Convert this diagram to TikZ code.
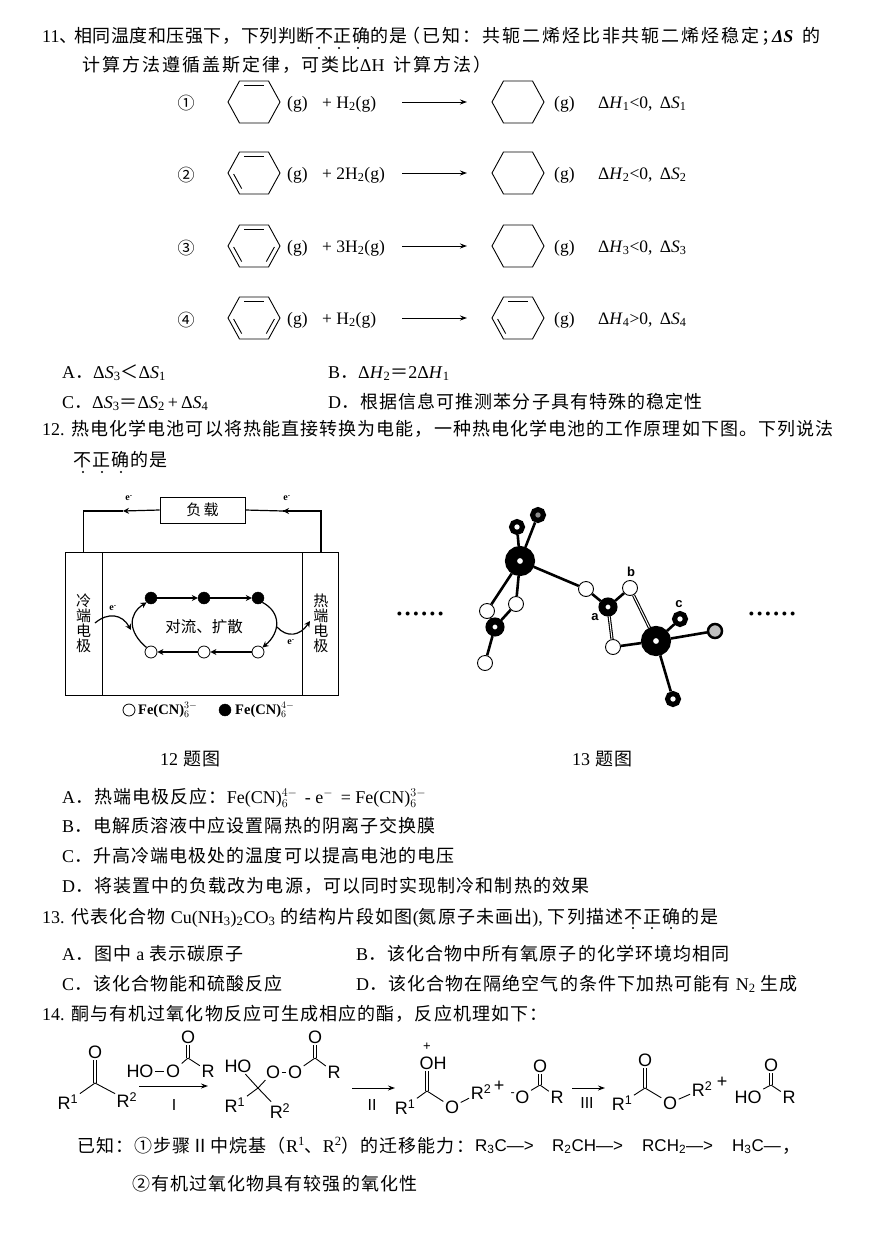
\documentclass[tikz,border=0pt]{standalone}
\usepackage[no-math]{fontspec}
\usepackage{tikz}
\usetikzlibrary{arrows.meta}
\usetikzlibrary{positioning}
\usetikzlibrary{calc}
\setmainfont{Liberation Serif}
\newfontfamily\ser{Liberation Serif}
\newfontfamily\helv{Liberation Sans}
\newfontfamily\cjk[LetterSpace=6]{Noto Sans CJK SC}
\newfontfamily\cjkmid[LetterSpace=3]{Noto Sans CJK SC}
\newfontfamily\cjkwide[LetterSpace=11]{Noto Sans CJK SC}
\newfontfamily\cjktight{Noto Sans CJK SC}
\tikzstyle{textline} = [anchor=base west, inner sep=0pt, font=\cjk\fontsize{18}{22}\selectfont]
\tikzstyle{wideline} = [anchor=base west, inner sep=0pt, font=\cjkwide\fontsize{18}{22}\selectfont]
\tikzstyle{rowtext} = [anchor=base west, inner sep=0pt, font=\ser\fontsize{17.5}{20}\selectfont]
\tikzstyle{ringline} = [line width=0.9pt, line join=miter]
\tikzstyle{rxn} = [line width=1pt, -{Stealth[length=7pt,width=5pt]}]
\tikzstyle{cellbox} = [rectangle, draw, line width=0.9pt, inner sep=0pt, align=center, font=\cjktight\fontsize{15}{15}\selectfont]
\tikzstyle{wire} = [line width=1.2pt]
\tikzstyle{flow} = [line width=1.2pt, -{Stealth[length=6pt,width=6pt]}]
\tikzstyle{blackion} = [circle, draw, fill=black, minimum size=12pt, inner sep=0pt]
\tikzstyle{whiteion} = [circle, draw, line width=0.8pt, fill=white, minimum size=12pt, inner sep=0pt]
\tikzstyle{elabel} = [inner sep=0pt, font=\ser\bfseries\fontsize{10}{10}\selectfont]
\tikzstyle{bigatom} = [circle, draw=black, fill=white, line width=12pt, minimum size=18pt, inner sep=0pt]
\tikzstyle{midatom} = [circle, draw=black, fill=white, line width=7pt, minimum size=12pt, inner sep=0pt]
\tikzstyle{ringatom} = [circle, draw=black, fill=white, line width=5pt, minimum size=11pt, inner sep=0pt]
\tikzstyle{whiteatom} = [circle, draw=black, fill=white, line width=0.9pt, minimum size=15pt, inner sep=0pt]
\tikzstyle{link} = [line width=2.6pt]
\tikzstyle{twinlink} = [line width=1.1pt, double, double distance=1pt]
\tikzstyle{atomlabel} = [inner sep=0pt, font=\helv\bfseries\fontsize{13}{13}\selectfont]
\tikzstyle{atom} = [inner sep=1.5pt, font=\helv\fontsize{18}{20}\selectfont]
\tikzstyle{bond} = [line width=0.9pt]
\tikzstyle{dbond} = [line width=0.8pt, double, double distance=2pt]
\tikzstyle{steplabel} = [inner sep=0pt, font=\helv\fontsize{16}{16}\selectfont]
\newcommand{\hexring}[2]{\begin{scope}[shift={(#1)}]
	\draw[ringline] (26,0)--(14.5,21)--(-14.5,21)--(-26,0)--(-14.5,-21)--(14.5,-21)--cycle;
	#2
\end{scope}}
\newcommand{\bondtop}{\draw[ringline] (-10,-17)--(10,-17);}
\newcommand{\bondleft}{\draw[ringline] (-20.4,1)--(-12.3,15.6);}
\newcommand{\bondright}{\draw[ringline] (20.4,1)--(12.3,15.6);}
\newcommand{\fecn}[1]{Fe(CN)$^{\mathrm{#1}}_{6}$}
\begin{document}
\begin{tikzpicture}[x=1pt,y=-1pt]
	\useasboundingbox (0,0) rectangle (870,1255);

	% question 11
	\node[textline] (Q11n) at (42,43) {{\ser 11}、};
	\node[textline, font=\cjkmid\fontsize{18}{22}\selectfont] (Q11a) at (74,43) {相同温度和压强下，下列判断不正确的是};
	\node[wideline] (Q11e) at (402,43) {（已知：共轭二烯烃比非共轭二烯烃稳定；};
	\node[textline] (Q11b) at (772,43) {{\ser\bfseries\textit{ΔS}}};
	\node[textline] (Q11c) at (802,43) {的};
	\node[wideline] (Q11d) at (82,71) {计算方法遵循盖斯定律，可类比{\ser ΔH}\hspace{9pt}计算方法）};
	\foreach \x in {319,339,358} \fill (\x,48) circle (1.1);

	\node[rowtext, anchor=center, font=\cjktight\fontsize{17}{20}\selectfont] (No1) at (186,103) {①};
	\hexring{254,102}{\bondtop}
	\node[rowtext] (GL1) at (287,108) {(g)};
	\node[rowtext] (Hy1) at (322,108) {+ H\textsubscript{2}(g)};
	\coordinate (ArA1) at (402,102);
	\coordinate (ArB1) at (467,102);
	\draw[rxn] (ArA1) -- (ArB1);
	\hexring{518,102}{}
	\node[rowtext] (GR1) at (554,108) {(g)};
	\node[rowtext] (En1) at (598,108) {Δ\textit{H}\textsubscript{1}<0,\, Δ\textit{S}\textsubscript{1}};

	\node[rowtext, anchor=center, font=\cjktight\fontsize{17}{20}\selectfont] (No2) at (186,175) {②};
	\hexring{254,173}{\bondtop\bondleft}
	\node[rowtext] (GL2) at (287,179) {(g)};
	\node[rowtext] (Hy2) at (322,179) {+ 2H\textsubscript{2}(g)};
	\coordinate (ArA2) at (402,173);
	\coordinate (ArB2) at (467,173);
	\draw[rxn] (ArA2) -- (ArB2);
	\hexring{518,173}{}
	\node[rowtext] (GR2) at (554,179) {(g)};
	\node[rowtext] (En2) at (598,179) {Δ\textit{H}\textsubscript{2}<0,\, Δ\textit{S}\textsubscript{2}};

	\node[rowtext, anchor=center, font=\cjktight\fontsize{17}{20}\selectfont] (No3) at (186,248) {③};
	\hexring{254,246}{\bondtop\bondleft\bondright}
	\node[rowtext] (GL3) at (287,252) {(g)};
	\node[rowtext] (Hy3) at (322,252) {+ 3H\textsubscript{2}(g)};
	\coordinate (ArA3) at (402,246);
	\coordinate (ArB3) at (467,246);
	\draw[rxn] (ArA3) -- (ArB3);
	\hexring{518,246}{}
	\node[rowtext] (GR3) at (554,252) {(g)};
	\node[rowtext] (En3) at (598,252) {Δ\textit{H}\textsubscript{3}<0,\, Δ\textit{S}\textsubscript{3}};

	\node[rowtext, anchor=center, font=\cjktight\fontsize{17}{20}\selectfont] (No4) at (186,320) {④};
	\hexring{254,318}{\bondtop\bondleft\bondright}
	\node[rowtext] (GL4) at (287,324) {(g)};
	\node[rowtext] (Hy4) at (322,324) {+ H\textsubscript{2}(g)};
	\coordinate (ArA4) at (402,318);
	\coordinate (ArB4) at (467,318);
	\draw[rxn] (ArA4) -- (ArB4);
	\hexring{518,318}{\bondtop\bondleft}
	\node[rowtext] (GR4) at (554,324) {(g)};
	\node[rowtext] (En4) at (598,324) {Δ\textit{H}\textsubscript{4}>0,\, Δ\textit{S}\textsubscript{4}};

	\node[textline] (Opt11A) at (62,378) {{\ser A}．{\ser Δ\textit{S}\textsubscript{3}}＜{\ser Δ\textit{S}\textsubscript{1}}};
	\node[textline] (Opt11B) at (328,378) {{\ser B}．{\ser Δ\textit{H}\textsubscript{2}}＝{\ser 2Δ\textit{H}\textsubscript{1}}};
	\node[textline] (Opt11C) at (62,408) {{\ser C}．{\ser Δ\textit{S}\textsubscript{3}}＝{\ser Δ\textit{S}\textsubscript{2}\,+\,Δ\textit{S}\textsubscript{4}}};
	\node[textline] (Opt11D) at (328,408) {{\ser D}．根据信息可推测苯分子具有特殊的稳定性};

	% question 12
	\node[textline] (Q12a) at (42,435) {{\ser 12.} 热电化学电池可以将热能直接转换为电能，一种热电化学电池的工作原理如下图。下列说法};
	\node[textline] (Q12b) at (73,466) {不正确的是};
	\foreach \x in {83,102,121} \fill (\x,472) circle (1.1);

	% cell figure
	\node[cellbox, minimum width=37pt, minimum height=143pt] (Cold) at (83.5,623.5) {冷\\端\\电\\极};
	\node[cellbox, minimum width=200pt, minimum height=143pt] at ([xshift=100pt]Cold.east) (Mid) {};
	\node[cellbox, minimum width=36pt, minimum height=143pt] at ([xshift=18pt]Mid.east) (Hot) {热\\端\\电\\极};
	\node[cellbox, minimum width=85pt, minimum height=26pt] (Load) at (202.5,510) {负\,载};
	\coordinate (TipL) at (123,511);
	\coordinate (TipR) at (283,511);
	\draw[wire] (TipL) -| (Cold.north);
	\draw[wire] (Hot.north) |- (TipR);
	\draw[flow] (Load.west) -- (TipL);
	\draw[flow] (TipR -| Hot.north) -- (TipR);
	\draw[wire] (TipR) -- (Load.east);
	\node[elabel] (eTopL) at (129,498) {e\textsuperscript{-}};
	\node[elabel] (eTopR) at (287,498) {e\textsuperscript{-}};

	\node[blackion] (Full1) at (151,598) {};
	\node[blackion] (Full2) at (204,598) {};
	\node[blackion] (Full3) at (258,598) {};
	\node[whiteion] (Open1) at (151,652) {};
	\node[whiteion] (Open2) at (204,652) {};
	\node[whiteion] (Open3) at (258,652) {};
	\draw[flow] (Full1) -- (Full2);
	\draw[flow] (Full2) -- (Full3);
	\draw[flow] (Open3) -- (Open2);
	\draw[flow] (Open2) -- (Open1);
	\draw[flow] (Open1.135) .. controls (128,632) and (128,614) .. (Full1.225);
	\draw[flow] (Full3.-45) .. controls (281,612) and (281,632) .. (Open3.45);
	\node[rowtext, anchor=center, font=\cjktight\fontsize{15.5}{16}\selectfont] (Convect) at (204,627) {对流、扩散};
	\coordinate (CurlA) at (95,623);
	\coordinate (CurlB) at (131,630);
	\coordinate (CurlC) at (277,627);
	\coordinate (CurlD) at (310,621);
	\draw[flow] (CurlA) .. controls (108,612) and (122,614) .. (CurlB);
	\draw[flow] (CurlC) .. controls (287,638) and (300,636) .. (CurlD);
	\node[elabel] (eCold) at (113,608) {e\textsuperscript{-}};
	\node[elabel] (eHot) at (291,642) {e\textsuperscript{-}};

	\node[whiteion] (KeyOpen) at (129,710) {};
	\node[rowtext, anchor=west, font=\ser\bfseries\fontsize{14.5}{16}\selectfont] (KeyOpenText) at (138,710) {\fecn{3-}};
	\node[blackion] (KeyFull) at (225,710) {};
	\node[rowtext, anchor=west, font=\ser\bfseries\fontsize{14.5}{16}\selectfont] (KeyFullText) at (235,710) {\fecn{4-}};
	\node[textline] (Cap12) at (160,765) {{\ser 12} 题图};
	\node[textline] (Cap13) at (572,765) {{\ser 13} 题图};

	% molecule figure
	\node[rowtext, anchor=base, font=\ser\fontsize{33}{33}\selectfont] (DotsL) at (420,615) {......};
	\node[rowtext, anchor=base, font=\ser\fontsize{33}{33}\selectfont] (DotsR) at (772,615) {......};
	\node[bigatom] (MetalA) at (520,561) {};
	\node[bigatom] (MetalB) at (656,641) {};
	\node[midatom] (CarbL) at (495,627) {};
	\node[midatom] (CarbA) at (608,607) {};
	\node[ringatom] (OxA1) at (517,527) {};
	\node[ringatom, fill=black!45] (OxA2) at (538,515) {};
	\node[ringatom] (OxC) at (680,619) {};
	\node[ringatom, line width=2.5pt, minimum size=14pt, fill=black!25] (OxD) at (715,631) {};
	\node[ringatom] (OxE) at (673,699) {};
	\node[whiteatom] (OxL1) at (487,611) {};
	\node[whiteatom] (OxL2) at (516,604) {};
	\node[whiteatom] (OxL3) at (485,663) {};
	\node[whiteatom] (OxR1) at (586,589) {};
	\node[whiteatom] (OxB) at (630,588) {};
	\node[whiteatom] (OxR3) at (613,647) {};
	\draw[link] (MetalA) -- (OxA1);
	\draw[link] (MetalA) -- (OxA2);
	\draw[link] (MetalA) -- (OxL1);
	\draw[link] (MetalA) -- (OxL2);
	\draw[link] (MetalA) -- (OxR1);
	\draw[link] (CarbL) -- (OxL1);
	\draw[link] (CarbL) -- (OxL2);
	\draw[link] (CarbL) -- (OxL3);
	\draw[link] (OxR1) -- (CarbA);
	\draw[link] (CarbA) -- (OxB);
	\draw[twinlink] (CarbA) -- (OxR3);
	\draw[twinlink] (OxB) -- (MetalB);
	\draw[link] (OxR3) -- (MetalB);
	\draw[link] (MetalB) -- (OxC);
	\draw[link] (MetalB) -- (OxD);
	\draw[link] (MetalB) -- (OxE);
	\node[atomlabel] (LabA) at (595,617) {a};
	\node[atomlabel] (LabB) at (631,572) {b};
	\node[atomlabel] (LabC) at (679,604) {c};

	% options 12 and question 13
	\node[textline] (Opt12A) at (62,803) {{\ser A}．热端电极反应：{\ser \fecn{4-}\, - e$^{-}$ \,= \fecn{3-}}};
	\node[textline] (Opt12B) at (62,832) {{\ser B}．电解质溶液中应设置隔热的阴离子交换膜};
	\node[textline] (Opt12C) at (62,862) {{\ser C}．升高冷端电极处的温度可以提高电池的电压};
	\node[textline] (Opt12D) at (62,892) {{\ser D}．将装置中的负载改为电源，可以同时实现制冷和制热的效果};
	\node[textline] (Q13) at (42,923) {{\ser 13.} 代表化合物 {\ser Cu(NH\textsubscript{3})\textsubscript{2}CO\textsubscript{3}} 的结构片段如图{\ser (}氮原子未画出{\ser ),} 下列描述不正确的是};
	\foreach \x in {633,652,671} \fill (\x,928) circle (1.1);
	\node[textline] (Opt13A) at (62,960) {{\ser A}．图中 {\ser a} 表示碳原子};
	\node[textline] (Opt13B) at (356,960) {{\ser B}．该化合物中所有氧原子的化学环境均相同};
	\node[textline] (Opt13C) at (62,990) {{\ser C}．该化合物能和硫酸反应};
	\node[textline] (Opt13D) at (356,990) {{\ser D}．该化合物在隔绝空气的条件下加热可能有 {\ser N\textsubscript{2}} 生成};
	\node[textline] (Q14) at (42,1020) {{\ser 14.} 酮与有机过氧化物反应可生成相应的酯，反应机理如下：};

	% ketone
	\coordinate (K-C) at (95,1083);
	\node[atom] at ([yshift=31pt]K-C) (K-O) {O};
	\node[atom] at ([xshift=-27pt,yshift=-19pt]K-C) (K-R1) {R\textsuperscript{1}};
	\node[atom] at ([xshift=32pt,yshift=-17pt]K-C) (K-R2) {R\textsuperscript{2}};
	\draw[dbond] (K-C) -- (K-O);
	\draw[bond] (K-C) -- (K-R1);
	\draw[bond] (K-C) -- (K-R2);

	% peracid over arrow I
	\node[atom] (Re-HO) at (140,1071) {HO};
	\node[atom] at ([xshift=33pt]Re-HO) (Re-O) {O};
	\coordinate (Re-C) at (188,1058);
	\node[atom] at ([yshift=21pt]Re-C) (Re-Top) {O};
	\node[atom] at ([xshift=20pt,yshift=-13pt]Re-C) (Re-R) {R};
	\draw[bond] (Re-HO) -- (Re-O);
	\draw[bond] (Re-O) -- (Re-C);
	\draw[dbond] (Re-C) -- (Re-Top);
	\draw[bond] (Re-C) -- (Re-R);
	\coordinate (ArI-A) at (139,1086);
	\coordinate (ArI-B) at (208,1086);
	\draw[rxn] (ArI-A) -- (ArI-B);
	\node[steplabel] (StepI) at (174,1105) {I};

	% peroxy intermediate
	\coordinate (M-C) at (258,1088);
	\node[atom] (M-HO) at (238,1066) {HO};
	\node[atom] (M-R1) at (235,1105) {R\textsuperscript{1}};
	\node[atom] (M-R2) at (280,1111) {R\textsuperscript{2}};
	\node[atom] (M-O1) at (273,1072) {O};
	\node[atom] at ([xshift=22pt]M-O1) (M-O2) {O};
	\coordinate (M-CO) at (315,1058);
	\node[atom] at ([yshift=21pt]M-CO) (M-Top) {O};
	\node[atom] at ([xshift=19pt,yshift=-14pt]M-CO) (M-R) {R};
	\draw[bond] (M-C) -- (M-HO);
	\draw[bond] (M-C) -- (M-R1);
	\draw[bond] (M-C) -- (M-R2);
	\draw[bond] (M-C) -- (M-O1);
	\draw[bond] (M-O1) -- (M-O2);
	\draw[bond] (M-O2) -- (M-CO);
	\draw[dbond] (M-CO) -- (M-Top);
	\draw[bond] (M-CO) -- (M-R);
	\coordinate (ArII-A) at (352,1088);
	\coordinate (ArII-B) at (395,1088);
	\draw[rxn] (ArII-A) -- (ArII-B);
	\node[steplabel] (StepII) at (372,1105) {II};

	% protonated ester and anion
	\coordinate (P-C) at (427,1091);
	\node[atom] (P-OH) at (433,1063) {OH};
	\node[atom, font=\helv\fontsize{13}{13}\selectfont] (P-Plus) at (427,1047) {+};
	\node[atom] (P-R1) at (405,1107) {R\textsuperscript{1}};
	\node[atom] (P-O) at (452,1107) {O};
	\node[atom] (P-R2) at (481,1092) {R\textsuperscript{2}};
	\draw[dbond] (P-C) -- (P-C |- P-OH.south);
	\draw[bond] (P-C) -- (P-R1);
	\draw[bond] (P-C) -- (P-O);
	\draw[bond] (P-O) -- (P-R2);
	\node[atom] (Plus1) at (499,1086) {+};
	\node[atom] (An-O) at (520,1097) {\textsuperscript{-}O};
	\coordinate (An-C) at (540,1085);
	\node[atom] at ([yshift=19pt]An-C) (An-Top) {O};
	\node[atom] at ([xshift=17pt,yshift=-12pt]An-C) (An-R) {R};
	\draw[bond] (An-O) -- (An-C);
	\draw[dbond] (An-C) -- (An-Top);
	\draw[bond] (An-C) -- (An-R);
	\coordinate (ArIII-A) at (572,1088);
	\coordinate (ArIII-B) at (605,1088);
	\draw[rxn] (ArIII-A) -- (ArIII-B);
	\node[steplabel] (StepIII) at (587,1103) {III};

	% ester and acid
	\coordinate (E-C) at (645,1088);
	\node[atom] at ([yshift=28pt]E-C) (E-Top) {O};
	\node[atom] (E-R1) at (622,1103) {R\textsuperscript{1}};
	\node[atom] (E-O) at (670,1103) {O};
	\node[atom] (E-R2) at (702,1089) {R\textsuperscript{2}};
	\draw[dbond] (E-C) -- (E-Top);
	\draw[bond] (E-C) -- (E-R1);
	\draw[bond] (E-C) -- (E-O);
	\draw[bond] (E-O) -- (E-R2);
	\node[atom] (Plus2) at (722,1082) {+};
	\node[atom] (Ac-HO) at (748,1097) {HO};
	\coordinate (Ac-C) at (771,1085);
	\node[atom] at ([yshift=20pt]Ac-C) (Ac-Top) {O};
	\node[atom] at ([xshift=18pt,yshift=-12pt]Ac-C) (Ac-R) {R};
	\draw[bond] (Ac-HO) -- (Ac-C);
	\draw[dbond] (Ac-C) -- (Ac-Top);
	\draw[bond] (Ac-C) -- (Ac-R);

	% known facts
	\node[textline] (Fact1) at (77,1152) {已知：①步骤Ⅱ中烷基（{\ser R\textsuperscript{1}}、{\ser R\textsuperscript{2}}）的迁移能力：};
	\node[rowtext, font=\helv\fontsize{17}{20}\selectfont] (Rank1) at (475,1151) {R\textsubscript{3}C—>};
	\node[rowtext, font=\helv\fontsize{17}{20}\selectfont] (Rank2) at (552,1151) {R\textsubscript{2}CH—>};
	\node[rowtext, font=\helv\fontsize{17}{20}\selectfont] (Rank3) at (642,1151) {RCH\textsubscript{2}—>};
	\node[rowtext, font=\helv\fontsize{17}{20}\selectfont] (Rank4) at (732,1151) {H\textsubscript{3}C—};
	\node[textline] (Comma) at (782,1152) {，};
	\node[textline] (Fact2) at (132,1190) {②有机过氧化物具有较强的氧化性};
\end{tikzpicture}
\end{document}
